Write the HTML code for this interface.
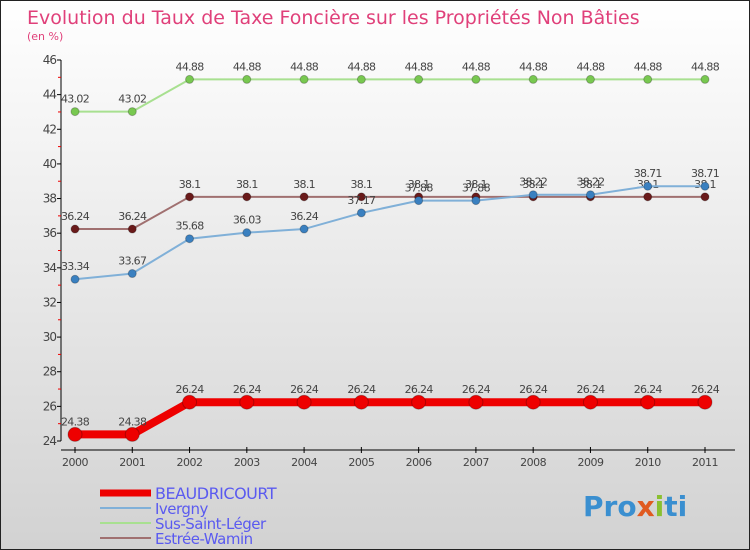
<!DOCTYPE html>
<html><head><meta charset="utf-8"><style>
body{margin:0;}
svg{display:block;font-family:"DejaVu Sans","Liberation Sans",sans-serif;}
</style></head><body>
<svg id="c" width="750" height="550">
<defs><linearGradient id="bg" x1="0" y1="0" x2="0" y2="1"><stop offset="0" stop-color="#ffffff"/><stop offset="1" stop-color="#d2d2d2"/></linearGradient></defs>
<rect x="0.5" y="0.5" width="749" height="549" fill="url(#bg)" stroke="#222"/>
<text x="27" y="24" font-size="19" fill="#e0407a">Evolution du Taux de Taxe Foncière sur les Propriétés Non Bâties</text>
<text x="27" y="40" font-size="11" fill="#e0407a">(en %)</text>
<g id="axes"></g><g id="series"></g><g id="legend"></g>
<text x="583" y="516" font-size="28" font-weight="bold" fill="#3a8fd0">Pro<tspan fill="#e05a20">x</tspan><tspan fill="#8ac030">i</tspan>ti</text>
</svg>
<script>
const years=["2000","2001","2002","2003","2004","2005","2006","2007","2008","2009","2010","2011"];
const yTicks=[24,26,28,30,32,34,36,38,40,42,44,46];
const beaudricourt=[24.38,24.38,26.24,26.24,26.24,26.24,26.24,26.24,26.24,26.24,26.24,26.24];
const ivergny=[33.34,33.67,35.68,36.03,36.24,37.17,37.88,37.88,38.22,38.22,38.71,38.71];
const susSaintLeger=[43.02,43.02,44.88,44.88,44.88,44.88,44.88,44.88,44.88,44.88,44.88,44.88];
const estreeWamin=[36.24,36.24,38.1,38.1,38.1,38.1,38.1,38.1,38.1,38.1,38.1,38.1];
const seriesNames=["BEAUDRICOURT","Ivergny","Sus-Saint-Léger","Estrée-Wamin"];
const NS="http://www.w3.org/2000/svg";
const X=i=>75+i*(630/11);
const Y=v=>441-(v-24)*(381/22);
function mk(t,a,p){const e=document.createElementNS(NS,t);for(const k in a)e.setAttribute(k,a[k]);p.appendChild(e);return e;}
const ax=document.getElementById('axes');
let yl=mk('line',{x1:61,y1:60,x2:61,y2:441,stroke:'#000'},ax);


let xl=mk('line',{x1:61,y1:450,x2:735,y2:450,stroke:'#000'},ax);


yTicks.forEach((v,i)=>{
 mk('line',{x1:57,x2:61,y1:Y(v),y2:Y(v),stroke:'#000'},ax);
 if(i<yTicks.length-1)mk('line',{x1:58,x2:61,y1:Y(v+1),y2:Y(v+1),stroke:'#e00'},ax);
 const t=mk('text',{x:56,y:Y(v)+4,'font-size':12,'text-anchor':'end',fill:'#444','letter-spacing':'-1'},ax);
 t.textContent=v;
 
 
});
years.forEach((y,i)=>{
 mk('line',{x1:X(i),x2:X(i),y1:447,y2:453,stroke:'#000'},ax);
 const t=mk('text',{x:X(i),y:466,'font-size':11,'text-anchor':'middle',fill:'#444','letter-spacing':'-0.5'},ax);
 t.textContent=y;
 
 
});
const sg=document.getElementById('series');
const defs=[[susSaintLeger,'#a8e090','#78c850',2,4,'series-sus-saint-leger'],[estreeWamin,'#a07070','#6a1a1a',2,4,'series-estree-wamin'],[ivergny,'#80b0d8','#3a80c0',2,4,'series-ivergny'],[beaudricourt,'#ee0000','#ee0000',8,7,'series-beaudricourt']];
defs.forEach(([d,lc,pc,w,r,n])=>{
 const g=mk('g',{},sg);
 
 
 const pl=mk('polyline',{points:d.map((v,i)=>X(i)+','+Y(v)).join(' '),fill:'none',stroke:lc,'stroke-width':w},g);
 
 
 d.forEach((v,i)=>{
  const c=mk('circle',{cx:X(i),cy:Y(v),r:r,fill:pc,stroke:'#00000040'},g);
  
  
  const t=mk('text',{x:X(i),y:Y(v)-9,'font-size':11,'text-anchor':'middle',fill:'#444','letter-spacing':'-0.7'},g);
  t.textContent=v;
  
  
 });
});
const lg=document.getElementById('legend');
const lc=['#ee0000','#80b0d8','#a8e090','#a07070'],lw=[7,2,2,2];
seriesNames.forEach((n,i)=>{
 const y=492+i*15;
 const g=mk('g',{},lg);
 
 
 mk('line',{x1:100,x2:151,y1:y+1,y2:y+1,stroke:lc[i],'stroke-width':lw[i]},g);
 const t=mk('text',{x:155,y:y+7,'font-size':i==0?16:15,fill:'#5a5af0','letter-spacing':'-0.5'},g);
 t.textContent=n;
});
</script>
</body></html>
